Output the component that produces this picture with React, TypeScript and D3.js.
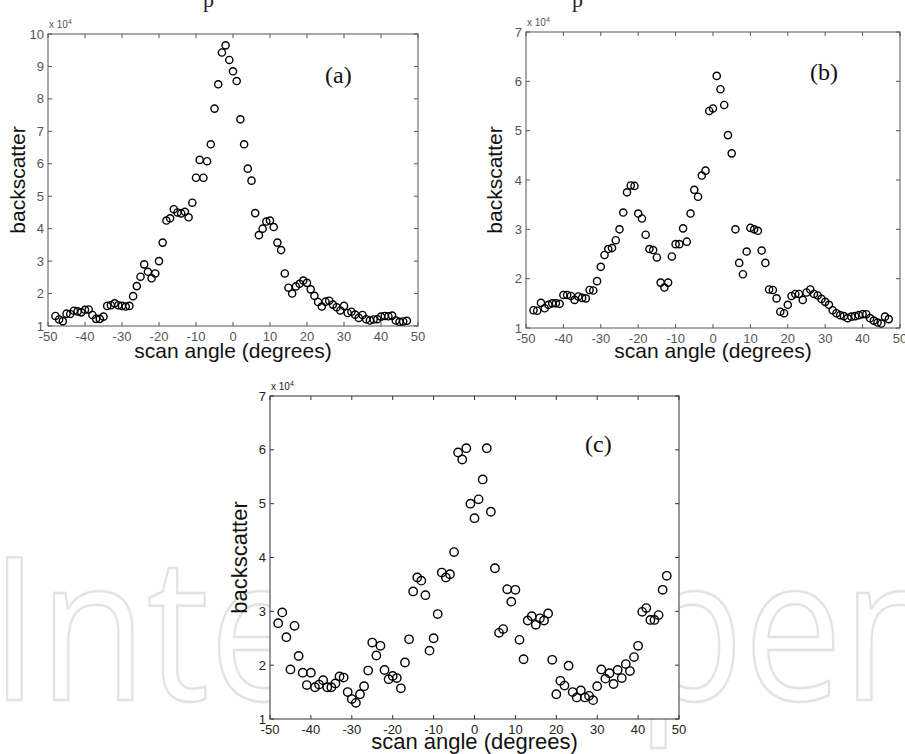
import React from "react";
import * as d3 from "d3";

const angles = [-48,-47,-46,-45,-44,-43,-42,-41,-40,-39,-38,-37,-36,-35,-34,-33,-32,-31,-30,-29,-28,-27,-26,-25,-24,-23,-22,-21,-20,-19,-18,-17,-16,-15,-14,-13,-12,-11,-10,-9,-8,-7,-6,-5,-4,-3,-2,-1,0,1,2,3,4,5,6,7,8,9,10,11,12,13,14,15,16,17,18,19,20,21,22,23,24,25,26,27,28,29,30,31,32,33,34,35,36,37,38,39,40,41,42,43,44,45,46,47];

// backscatter values in units of 1e4
const backscatterA = [1.31,1.2,1.15,1.38,1.37,1.47,1.45,1.42,1.5,1.51,1.34,1.22,1.22,1.29,1.62,1.64,1.7,1.64,1.62,1.6,1.62,1.92,2.23,2.52,2.9,2.67,2.47,2.62,3.0,3.57,4.25,4.32,4.6,4.5,4.47,4.52,4.35,4.8,5.57,6.12,5.57,6.08,6.6,7.7,8.45,9.43,9.65,9.2,8.85,8.55,7.37,6.6,5.85,5.48,4.48,3.8,4.0,4.22,4.25,4.05,3.57,3.34,2.62,2.18,2.0,2.22,2.3,2.4,2.33,2.13,1.93,1.74,1.6,1.75,1.78,1.66,1.58,1.48,1.62,1.4,1.44,1.35,1.25,1.34,1.21,1.17,1.2,1.21,1.29,1.31,1.3,1.32,1.17,1.13,1.14,1.16];

const backscatterB = [1.36,1.35,1.51,1.4,1.47,1.5,1.5,1.49,1.67,1.67,1.65,1.57,1.64,1.61,1.6,1.77,1.76,1.95,2.24,2.48,2.6,2.62,2.78,3.0,3.34,3.75,3.89,3.88,3.32,3.22,2.89,2.6,2.58,2.43,1.92,1.82,1.92,2.45,2.7,2.7,3.02,2.75,3.32,3.8,3.66,4.09,4.19,5.4,5.45,6.11,5.84,5.52,4.91,4.54,3.0,2.32,2.09,2.55,3.03,3.0,2.97,2.57,2.32,1.78,1.77,1.6,1.33,1.3,1.47,1.65,1.69,1.69,1.57,1.72,1.78,1.69,1.66,1.59,1.53,1.47,1.36,1.3,1.26,1.24,1.2,1.23,1.24,1.26,1.28,1.28,1.2,1.15,1.11,1.09,1.23,1.18];

const backscatterC = [2.78,2.98,2.52,1.92,2.73,2.17,1.86,1.63,1.86,1.59,1.64,1.72,1.59,1.59,1.66,1.79,1.77,1.5,1.37,1.3,1.46,1.61,1.9,2.42,2.18,2.36,1.91,1.74,1.8,1.76,1.57,2.05,2.48,3.37,3.63,3.57,3.3,2.27,2.5,2.95,3.72,3.63,3.69,4.1,5.95,5.82,6.03,5.0,4.73,5.08,5.45,6.03,4.85,3.8,2.6,2.67,3.41,3.18,3.4,2.47,2.11,2.83,2.91,2.75,2.87,2.83,2.96,2.1,1.46,1.71,1.62,1.99,1.5,1.4,1.53,1.4,1.43,1.35,1.61,1.92,1.75,1.85,1.65,1.91,1.76,2.02,1.89,2.15,2.36,2.99,3.06,2.84,2.84,2.93,3.4,3.66];

const xTicks = [-50,-40,-30,-20,-10,0,10,20,30,40,50];
const yTicksA = [1,2,3,4,5,6,7,8,9,10];
const yTicksBC = [1,2,3,4,5,6,7];
const panelLabels = ["(a)", "(b)", "(c)"];

type PanelProps = {
  left: number; right: number; top: number; bottom: number;
  values: number[]; yTicks: number[]; label: string;
  labelX: number; labelY: number;
  r: number; axisColor: string; textColor: string;
  xLabelY: number; yLabelX: number; fs: number;
};

function Panel(p: PanelProps) {
  const x = d3.scaleLinear().domain([-50, 50]).range([p.left, p.right]);
  const yMax = p.yTicks[p.yTicks.length - 1];
  const y = d3.scaleLinear().domain([1, yMax]).range([p.bottom, p.top]);
  const tl = 4;
  const font = "'Liberation Sans', Arial, sans-serif";
  return (
    <g>
      <rect x={p.left} y={p.top} width={p.right - p.left} height={p.bottom - p.top} fill="#fff" stroke={p.axisColor} strokeWidth={1} />
      {xTicks.map((t) => (
        <g key={"x" + t}>
          <line x1={x(t)} x2={x(t)} y1={p.bottom} y2={p.bottom - tl} stroke={p.axisColor} />
          <line x1={x(t)} x2={x(t)} y1={p.top} y2={p.top + tl} stroke={p.axisColor} />
          <text x={x(t)} y={p.bottom + 15} fontSize={13} fontFamily={font} fill={p.textColor} textAnchor="middle">{t}</text>
        </g>
      ))}
      {p.yTicks.map((t) => (
        <g key={"y" + t}>
          <line x1={p.left} x2={p.left + tl} y1={y(t)} y2={y(t)} stroke={p.axisColor} />
          <line x1={p.right} x2={p.right - tl} y1={y(t)} y2={y(t)} stroke={p.axisColor} />
          <text x={p.left - 4} y={y(t) + 4.5} fontSize={13} fontFamily={font} fill={p.textColor} textAnchor="end">{t}</text>
        </g>
      ))}
      <text x={p.left + 1} y={p.top - 6} fontSize={10} fontFamily={font} fill={p.textColor}>
        x 10<tspan dy={-4} fontSize={7}>4</tspan>
      </text>
      {angles.map((a, i) => (
        <circle key={i} cx={x(a)} cy={y(p.values[i])} r={p.r} fill="none" stroke="#000" strokeWidth={1.4} />
      ))}
      <text x={p.labelX} y={p.labelY} fontSize={24} fontFamily="'Liberation Serif', 'DejaVu Serif', serif" fill="#111">{p.label}</text>
      <text x={(p.left + p.right) / 2} y={p.xLabelY} fontSize={p.fs} fontFamily={font} fill="#111" textAnchor="middle">scan angle (degrees)</text>
      <text transform={`translate(${p.yLabelX},${(p.top + p.bottom) / 2}) rotate(-90)`} fontSize={p.fs} fontFamily={font} fill="#111" textAnchor="middle">backscatter</text>
    </g>
  );
}

export default function App() {
  return (
    <svg width={905} height={754} style={{ position: "absolute", left: 0, top: 0, background: "#fff" }}>
      <rect x={0} y={0} width={905} height={754} fill="#fff" />
      <text x={-10} y={700} fontSize={200} fontFamily="'Open Sans', sans-serif" fill="none" stroke="#e3e3e3" strokeWidth={2.5} textLength={960} lengthAdjust="spacingAndGlyphs">IntechOpen</text>
      <text x={203} y={7} fontSize={22} fontFamily="'Liberation Serif', serif" fill="#222">p</text>
      <text x={572} y={7} fontSize={22} fontFamily="'Liberation Serif', serif" fill="#222">p</text>
      <Panel left={48} right={418} top={34} bottom={326} values={backscatterA} yTicks={yTicksA} label={panelLabels[0]} labelX={325} labelY={83} r={3.6} axisColor="#555" textColor="#555" xLabelY={358} yLabelX={25} fs={21} />
      <Panel left={526} right={900} top={32} bottom={328} values={backscatterB} yTicks={yTicksBC} label={panelLabels[1]} labelX={810} labelY={80} r={3.6} axisColor="#555" textColor="#555" xLabelY={358} yLabelX={502} fs={21} />
      <Panel left={270} right={679} top={396} bottom={719} values={backscatterC} yTicks={yTicksBC} label={panelLabels[2]} labelX={585} labelY={452} r={4.2} axisColor="#333" textColor="#222" xLabelY={749} yLabelX={247} fs={22} />
    </svg>
  );
}
